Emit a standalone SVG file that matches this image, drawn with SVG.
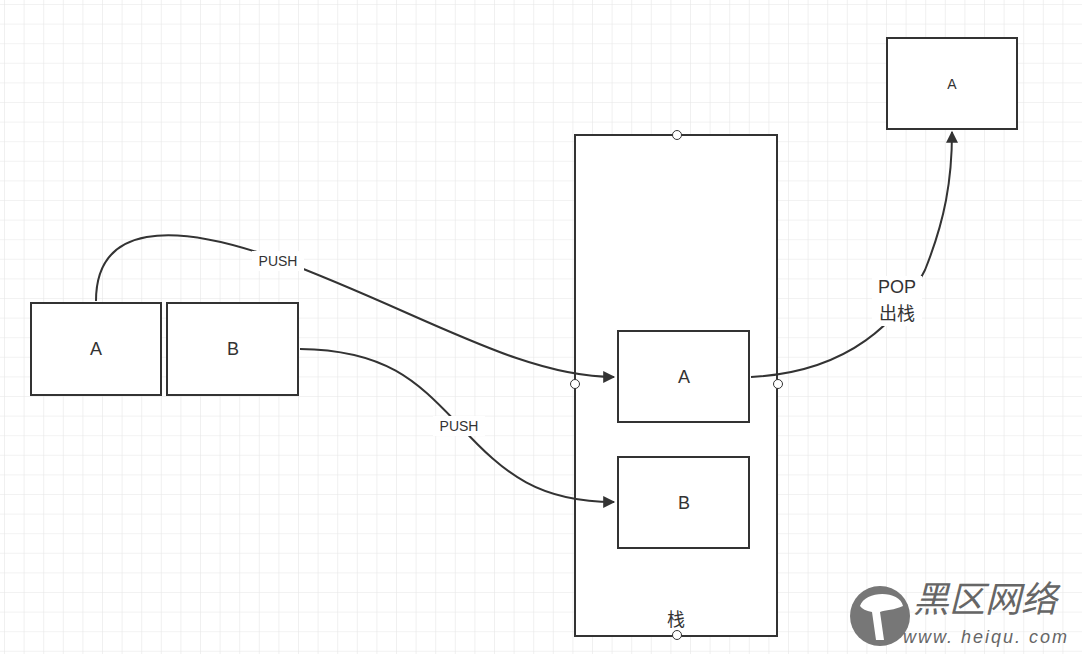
<svg xmlns="http://www.w3.org/2000/svg" width="1082" height="654" viewBox="0 0 1082 654">
<defs>
<pattern id="grid" x="4" y="4" width="19.6" height="19.6" patternUnits="userSpaceOnUse">
<path d="M0,0 H19.6 M0,0 V19.6" fill="none" stroke="#e6e6e6" stroke-width="1.2"/>
</pattern>
<marker id="arr" viewBox="0 0 10 10" refX="9" refY="5" markerWidth="9" markerHeight="9" markerUnits="userSpaceOnUse" orient="auto">
<path d="M0,0 L10,5 L0,10 Z" fill="#333"/>
</marker>
<marker id="arrL" viewBox="0 0 10 10" refX="9" refY="5" markerWidth="16" markerHeight="12" markerUnits="userSpaceOnUse" orient="auto">
<path d="M0,0 L10,5 L0,10 Z" fill="#333"/>
</marker>
<style>
.box{fill:#fff;stroke:#333;stroke-width:2}
.lbl{font-family:"Liberation Sans","Noto Sans CJK SC",sans-serif;font-size:18px;fill:#333;text-anchor:middle;dominant-baseline:middle}
.sm{font-size:14px}
.con{fill:none;stroke:#333;stroke-width:2}
.pt{fill:#fff;stroke:#333;stroke-width:1}
</style>
</defs>
<rect width="1082" height="654" fill="#fff"/>
<rect width="1082" height="654" fill="url(#grid)"/>
<g id="stack"><rect class="box" x="575" y="135" width="202" height="501"/><text class="lbl" x="676" y="621">栈</text></g>
<g id="leftA"><rect class="box" x="31" y="303" width="130" height="92"/><text class="lbl" x="96" y="350">A</text></g>
<g id="leftB"><rect class="box" x="167" y="303" width="131" height="92"/><text class="lbl" x="233" y="350">B</text></g>
<g id="stackA"><rect class="box" x="618" y="331" width="131" height="91"/><text class="lbl" x="684" y="378">A</text></g>
<g id="stackB"><rect class="box" x="618" y="457" width="131" height="91"/><text class="lbl" x="684" y="504">B</text></g>
<g id="popA"><rect class="box" x="887" y="38" width="130" height="91"/><text class="lbl sm" x="952" y="85">A</text></g>
<g id="connectors">
<path class="con" d="M96,301 C96,225 170,220 280,260 C420,312 520,377 614,377" marker-end="url(#arrL)"/>
<path class="con" d="M300,349 C390,350 420,385 460,426 C505,475 540,502 614,502" marker-end="url(#arrL)"/>
<path class="con" d="M751,377 C850,372 900,320 925,270 C945,220 952,180 952,132" marker-end="url(#arrL)"/>
<rect x="252" y="251" width="52" height="20" fill="#fff"/>
<text class="lbl sm" x="278" y="262">PUSH</text>
<rect x="433" y="416" width="52" height="20" fill="#fff"/>
<text class="lbl sm" x="459" y="427">PUSH</text>
<rect x="872" y="276" width="50" height="50" fill="#fff"/>
<text class="lbl" x="897" y="288">POP</text>
<text class="lbl" x="897" y="315">出栈</text>
</g>
<g id="points">
<circle class="pt" cx="677" cy="135" r="4.5"/>
<circle class="pt" cx="575" cy="384" r="4.5"/>
<circle class="pt" cx="778" cy="384" r="4.5"/>
<circle class="pt" cx="677" cy="635" r="4.5"/>
</g>
<g id="watermark" fill="#666">
<circle cx="880" cy="616" r="30" fill="#777"/>
<path d="M860,606 C865,590 900,590 903,606 C895,610 885,610 880,612 L884,640 L876,640 L872,612 C866,611 862,609 860,606 Z" fill="#fff"/>
<text x="985" y="612" font-family="'Noto Sans CJK SC',sans-serif" font-size="36" font-style="italic" text-anchor="middle" fill="#666">黑区网络</text>
<text x="986" y="643" font-family="'Liberation Sans',sans-serif" font-size="18" font-style="italic" text-anchor="middle" fill="#666" letter-spacing="2">www. heiqu. com</text>
</g>
</svg>
